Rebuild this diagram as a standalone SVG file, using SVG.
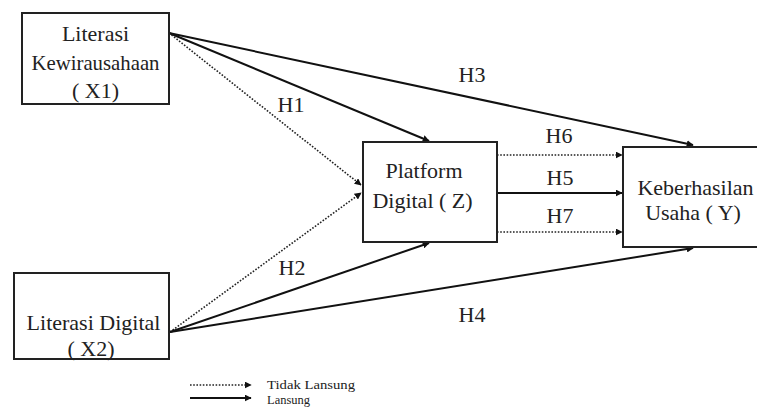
<svg xmlns="http://www.w3.org/2000/svg" width="757" height="408" viewBox="0 0 757 408">
<style>
.box{fill:#fff;stroke:#222;stroke-width:2}
.t{font-size:22px;text-anchor:middle;fill:#222}
.h{font-size:22px;text-anchor:middle;fill:#222}
.lg{font-size:13.5px;fill:#222}
.solid{stroke:#111;stroke-width:2;fill:none}
.dot{stroke:#222;stroke-width:1.6;stroke-dasharray:1.6 1.6;fill:none}
</style>
<defs>
<marker id="ah" viewBox="0 0 10 10" refX="9" refY="5" markerWidth="7" markerHeight="7" markerUnits="userSpaceOnUse" orient="auto">
<path d="M0,0 L10,5 L0,10 z" fill="#111"/>
</marker>
</defs>
<rect width="757" height="408" fill="#fff"/>
<g font-family="Liberation Serif, Times New Roman, Tinos, serif">
<g id="connectors">
<line class="solid" x1="169" y1="33" x2="429" y2="141" marker-end="url(#ah)"/>
<line class="solid" x1="169" y1="33" x2="693" y2="145" marker-end="url(#ah)"/>
<line class="dot" x1="169" y1="33" x2="361" y2="185" marker-end="url(#ah)"/>
<line class="dot" x1="170" y1="332" x2="361" y2="193" marker-end="url(#ah)"/>
<line class="solid" x1="170" y1="332" x2="429" y2="243" marker-end="url(#ah)"/>
<line class="solid" x1="170" y1="332" x2="693" y2="248" marker-end="url(#ah)"/>
<line class="dot" x1="497" y1="155" x2="622" y2="155" marker-end="url(#ah)"/>
<line class="solid" x1="497" y1="193" x2="622" y2="193" marker-end="url(#ah)"/>
<line class="dot" x1="497" y1="232" x2="622" y2="232" marker-end="url(#ah)"/>
<text class="h" x="291" y="112">H1</text>
<text class="h" x="292" y="275">H2</text>
<text class="h" x="472" y="82">H3</text>
<text class="h" x="472" y="322">H4</text>
<text class="h" x="560" y="185">H5</text>
<text class="h" x="559" y="143">H6</text>
<text class="h" x="560" y="223">H7</text>
</g>
<g id="x1">
<rect class="box" x="22" y="13" width="147" height="91"/>
<text class="t" x="95.5" y="41">Literasi</text>
<text class="t" x="95.5" y="70" textLength="128" lengthAdjust="spacingAndGlyphs">Kewirausahaan</text>
<text class="t" x="95.5" y="98">( X1)</text>
</g>
<g id="x2">
<rect class="box" x="14" y="273" width="155" height="86"/>
<text class="t" x="93.5" y="330">Literasi Digital</text>
<text class="t" x="91" y="356">( X2)</text>
</g>
<g id="z">
<rect class="box" x="363" y="142" width="134" height="100"/>
<text class="t" x="424" y="178">Platform</text>
<text class="t" x="422.5" y="208">Digital ( Z)</text>
</g>
<g id="y">
<rect class="box" x="623" y="147" width="140" height="100"/>
<text class="t" x="695.5" y="195">Keberhasilan</text>
<text class="t" x="693" y="220">Usaha ( Y)</text>
</g>
<g id="legend">
<line class="dot" x1="190" y1="385" x2="251" y2="385" marker-end="url(#ah)"/>
<line class="solid" x1="190" y1="398" x2="251" y2="398" marker-end="url(#ah)"/>
<text class="lg" x="267" y="389" textLength="88" lengthAdjust="spacingAndGlyphs">Tidak Lansung</text>
<text class="lg" x="267" y="404" textLength="43" lengthAdjust="spacingAndGlyphs">Lansung</text>
</g>
</g>
</svg>
